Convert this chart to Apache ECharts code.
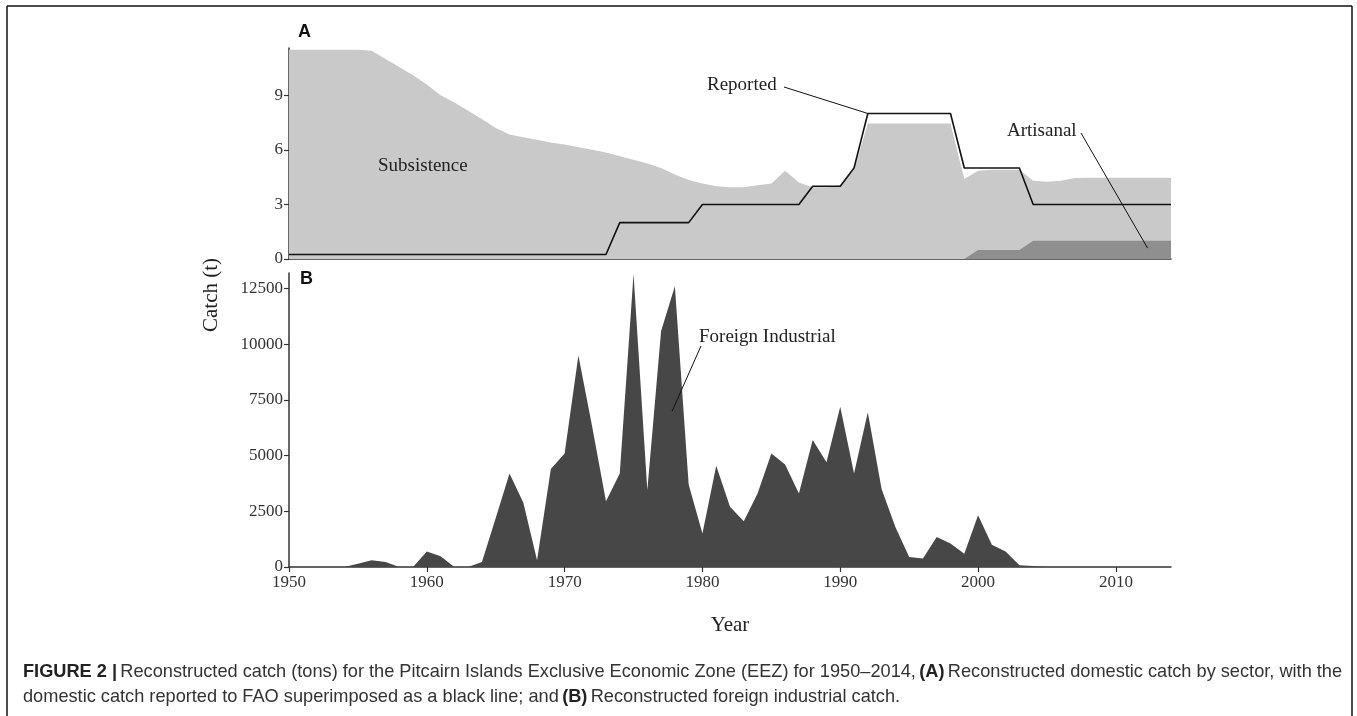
<!DOCTYPE html>
<html><head><meta charset="utf-8">
<script src="https://cdn.jsdelivr.net/npm/echarts@6/dist/echarts.min.js"></script>
<style>html,body{margin:0;padding:0;background:#fff}#c{width:1357px;height:716px}</style>
</head><body><div id="c"></div>
<script>
const years = [1950,1951,1952,1953,1954,1955,1956,1957,1958,1959,1960,1961,1962,1963,1964,1965,1966,1967,1968,1969,1970,1971,1972,1973,1974,1975,1976,1977,1978,1979,1980,1981,1982,1983,1984,1985,1986,1987,1988,1989,1990,1991,1992,1993,1994,1995,1996,1997,1998,1999,2000,2001,2002,2003,2004,2005,2006,2007,2008,2009,2010,2011,2012,2013,2014];
const subsistence = [11.5,11.5,11.5,11.5,11.5,11.5,11.45,11.0,10.55,10.1,9.6,9.0,8.6,8.15,7.7,7.2,6.85,6.7,6.55,6.4,6.3,6.15,6.0,5.85,5.65,5.45,5.25,5.0,4.65,4.35,4.15,4.0,3.95,3.95,4.05,4.15,4.85,4.2,3.95,3.95,4.05,4.9,7.45,7.45,7.45,7.45,7.45,7.45,7.45,4.4,4.35,4.4,4.4,4.4,3.3,3.25,3.3,3.45,3.47,3.47,3.47,3.47,3.47,3.47,3.47];
const artisanal = [0,0,0,0,0,0,0,0,0,0,0,0,0,0,0,0,0,0,0,0,0,0,0,0,0,0,0,0,0,0,0,0,0,0,0,0,0,0,0,0,0,0,0,0,0,0,0,0,0,0,0.5,0.5,0.5,0.5,1.0,1.0,1.0,1.0,1.0,1.0,1.0,1.0,1.0,1.0,1.0];
const reported = [0.25,0.25,0.25,0.25,0.25,0.25,0.25,0.25,0.25,0.25,0.25,0.25,0.25,0.25,0.25,0.25,0.25,0.25,0.25,0.25,0.25,0.25,0.25,0.25,2,2,2,2,2,2,3,3,3,3,3,3,3,3,4,4,4,5,8,8,8,8,8,8,8,5,5,5,5,5,3,3,3,3,3,3,3,3,3,3,3];
const foreignIndustrial = [0,0,0,0,0,150,300,220,0,0,700,480,0,0,220,2200,4200,2900,300,4400,5100,9500,6300,2950,4200,13150,3450,10600,12600,3700,1500,4550,2700,2050,3300,5100,4600,3300,5700,4700,7200,4200,6950,3500,1800,450,380,1350,1050,600,2320,1000,700,80,50,0,0,0,0,0,0,0,0,0,0];
const xTicks = [1950,1960,1970,1980,1990,2000,2010];
const yTicksA = [0,3,6,9];
const yTicksB = [0,2500,5000,7500,10000,12500];

const pairs = arr => years.map((y, i) => [y, arr[i]]);
// stacked domestic total: artisanal at the bottom, subsistence on top of it
const domesticTop = years.map((y, i) => [y, artisanal[i] + subsistence[i]]);
const serif = '"Liberation Serif","Times New Roman",serif';
const sans = '"Liberation Sans",Arial,sans-serif';
const axisCol = '#333';
const plain = v => String(v);

const chart = echarts.init(document.getElementById('c'), null, {renderer: 'canvas'});
const gridA = {left: 289, top: 48, width: 882, height: 211};
const gridB = {left: 289, top: 273, width: 882, height: 294};

const yLabel = {fontFamily: serif, fontSize: 17, color: '#333', margin: 6, formatter: plain};
const option = {
  animation: false,
  backgroundColor: '#fff',
  grid: [gridA, gridB],
  xAxis: [
    {gridIndex: 0, type: 'value', min: 1950, max: 2014,
     axisLine: {show: true, onZero: false, lineStyle: {color: axisCol, width: 1.5}},
     axisTick: {show: false}, axisLabel: {show: false}, splitLine: {show: false}},
    {gridIndex: 1, type: 'value', min: 1950, max: 2014,
     axisLine: {show: true, onZero: false, lineStyle: {color: axisCol, width: 1.5}},
     axisTick: {show: true, length: 5, customValues: xTicks, lineStyle: {color: axisCol, width: 1.2}},
     axisLabel: {customValues: xTicks, fontFamily: serif, fontSize: 17, color: '#333', margin: 7, formatter: plain},
     splitLine: {show: false}}
  ],
  yAxis: [
    {gridIndex: 0, type: 'value', min: 0, max: 11.6,
     axisLine: {show: true, lineStyle: {color: axisCol, width: 1.5}},
     axisTick: {show: true, length: 5, customValues: yTicksA, lineStyle: {color: axisCol, width: 1.2}},
     axisLabel: Object.assign({customValues: yTicksA}, yLabel),
     splitLine: {show: false}},
    {gridIndex: 1, type: 'value', min: 0, max: 13200,
     axisLine: {show: true, lineStyle: {color: axisCol, width: 1.5}},
     axisTick: {show: true, length: 5, customValues: yTicksB, lineStyle: {color: axisCol, width: 1.2}},
     axisLabel: Object.assign({customValues: yTicksB}, yLabel),
     splitLine: {show: false}}
  ],
  series: [
    {name: 'Subsistence', type: 'line', xAxisIndex: 0, yAxisIndex: 0, data: domesticTop,
     symbol: 'none', lineStyle: {width: 0, opacity: 0}, areaStyle: {color: '#c9c9c9', opacity: 1}, z: 2},
    {name: 'Artisanal', type: 'line', xAxisIndex: 0, yAxisIndex: 0, data: pairs(artisanal),
     symbol: 'none', lineStyle: {width: 0, opacity: 0}, areaStyle: {color: '#8f8f8f', opacity: 1}, z: 3},
    {name: 'Reported', type: 'line', xAxisIndex: 0, yAxisIndex: 0, data: pairs(reported),
     symbol: 'none', lineStyle: {color: '#111', width: 1.6}, z: 5},
    {name: 'Foreign Industrial', type: 'line', xAxisIndex: 1, yAxisIndex: 1, data: pairs(foreignIndustrial),
     symbol: 'none', lineStyle: {width: 0, opacity: 0}, areaStyle: {color: '#474747', opacity: 1}, z: 2}
  ]
};
chart.setOption(option);

const pA = v => chart.convertToPixel({gridIndex: 0}, v);
const pB = v => chart.convertToPixel({gridIndex: 1}, v);
const repEnd = pA([1992, 8]);
const artEnd = pA([2012.3, 0.6]);
const forEnd = pB([1977.8, 7000]);
const txt = (x, y, text, opt) => Object.assign({type: 'text', x: x, y: y, z: 20,
  style: Object.assign({text: text, fill: '#222', font: '19px ' + serif, textAlign: 'left', textVerticalAlign: 'middle'}, opt || {})});
const ln = (x1, y1, x2, y2, w) => ({type: 'line', z: 20, shape: {x1: x1, y1: y1, x2: x2, y2: y2}, style: {stroke: '#111', lineWidth: w || 1}});
const cap = {b: {font: 'bold 18.2px ' + sans, fill: '#222'}, r: {font: '18.2px ' + sans, fill: '#333'}};

chart.setOption({graphic: [
  ln(7, 6, 1352, 6, 1.5), ln(7, 6, 7, 716, 1.5), ln(1352, 6, 1352, 716, 1.5),
  txt(298, 32, 'A', {font: 'bold 18px ' + sans, fill: '#111'}),
  txt(300, 279, 'B', {font: 'bold 18px ' + sans, fill: '#111'}),
  txt(378, 166, 'Subsistence'),
  txt(707, 85, 'Reported'),
  ln(784, 87, repEnd[0], repEnd[1]),
  txt(1007, 131, 'Artisanal'),
  ln(1081, 133, artEnd[0], artEnd[1]),
  txt(699, 337, 'Foreign Industrial'),
  ln(701, 346, forEnd[0], forEnd[1]),
  {type: 'text', x: 211, y: 295, rotation: Math.PI / 2, z: 20,
   style: {text: 'Catch (t)', font: '21px ' + serif, fill: '#222', textAlign: 'center', textVerticalAlign: 'middle'}},
  {type: 'text', x: 730, y: 625, z: 20,
   style: {text: 'Year', font: '21px ' + serif, fill: '#222', textAlign: 'center', textVerticalAlign: 'middle'}},
  {type: 'text', x: 23, y: 672, z: 20,
   style: {rich: cap, textVerticalAlign: 'middle',
     text: '{b|FIGURE 2 |} {r|Reconstructed catch (tons) for the Pitcairn Islands Exclusive Economic Zone (EEZ) for 1950–2014,} {b|(A)} {r|Reconstructed domestic catch by sector, with the}'}},
  {type: 'text', x: 23, y: 697, z: 20,
   style: {rich: cap, textVerticalAlign: 'middle',
     text: '{r|domestic catch reported to FAO superimposed as a black line; and} {b|(B)} {r|Reconstructed foreign industrial catch.}'}}
]});
</script></body></html>
